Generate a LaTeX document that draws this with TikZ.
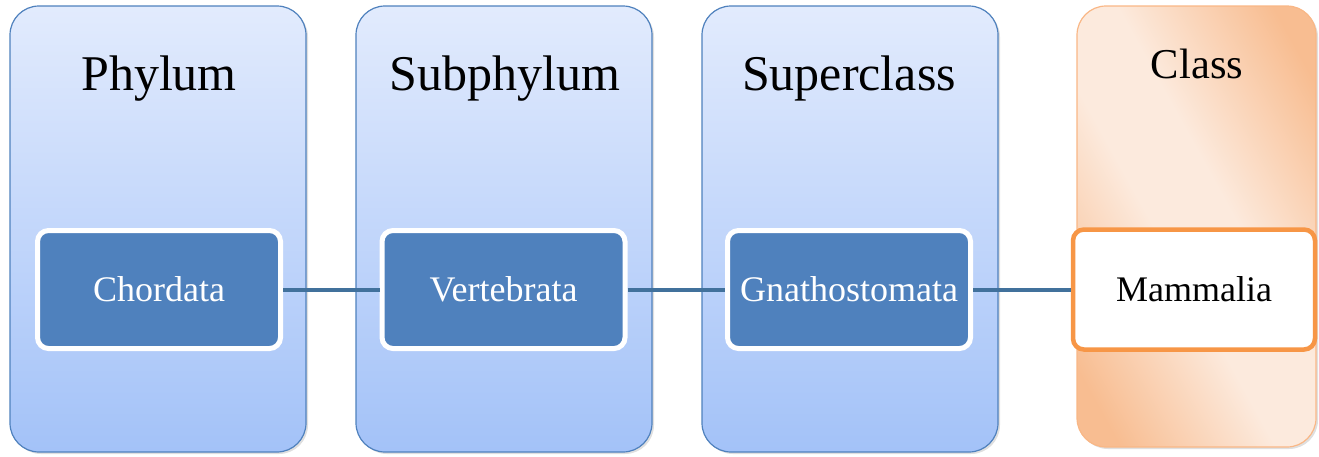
\documentclass[tikz,border=0pt]{standalone}
\usepackage{fontspec}
\setmainfont{Liberation Serif}
\usepackage{tikz}
\usetikzlibrary{shapes}
\usetikzlibrary{shadows}
\definecolor{colTop}{RGB}{226,235,253}
\definecolor{colBot}{RGB}{163,194,248}
\definecolor{colLine}{RGB}{79,129,189}
\definecolor{linkBlue}{RGB}{65,113,156}
\definecolor{orgDark}{RGB}{248,189,145}
\definecolor{orgLight}{RGB}{252,234,221}
\definecolor{orgEdge}{RGB}{249,183,134}
\definecolor{orgBox}{RGB}{247,150,70}
\pgfdeclarehorizontalshading{org_band}{100bp}{color(0bp)=(orgDark); color(22bp)=(orgDark); color(44bp)=(orgLight); color(56bp)=(orgLight); color(78bp)=(orgDark); color(100bp)=(orgDark)}
\tikzset{ rank_col/.style = {rectangle, rounded corners=29pt, draw=colLine, line width=1.2pt, top color=colTop, bottom color=colBot, minimum width=296pt, minimum height=446pt, drop shadow={shadow xshift=2pt, shadow yshift=-2pt, opacity=0.25}} }
\tikzset{ rank_col_hi/.style = {rectangle, rounded corners=29pt, draw=orgEdge, line width=1.2pt, shading=org_band, shading angle=29, minimum width=239pt, minimum height=441pt, drop shadow={shadow xshift=2pt, shadow yshift=-2pt, opacity=0.25}} }
\tikzset{ rank_name/.style = {anchor=base, font=\fontsize{50}{60}\selectfont} }
\tikzset{ taxon/.style = {rectangle, rounded corners=11pt, draw=white, line width=5pt, fill=colLine, text=white, minimum width=243pt, minimum height=118pt, font=\fontsize{36}{43}\selectfont} }
\tikzset{ taxon_hi/.style = {rectangle, rounded corners=11pt, draw=orgBox, line width=4.5pt, fill=white, minimum width=242pt, minimum height=120pt, font=\fontsize{36}{43}\selectfont} }
\tikzset{ link/.style = {draw=linkBlue, line width=4pt} }
\begin{document}
\begin{tikzpicture}[x=1pt,y=-1pt]
            \useasboundingbox (0,0) rectangle (1319,456);
                    \node [style=rank_col] (phylum) at (158, 229) {};
                    \node [style=rank_col] (subphylum) at (504, 229) {};
                    \node [style=rank_col] (superclass) at (850, 229) {};
                    \node [style=rank_col_hi] (class) at (1196.5, 226.5) {};
                    \node [style=rank_name] (phylum_t) at (159, 90) {Phylum};
                    \node [style=rank_name] (subphylum_t) at (505, 90) {Subphylum};
                    \node [style=rank_name] (superclass_t) at (849, 90) {Superclass};
                    \node [style=rank_name, font=\fontsize{42.5}{51}\selectfont] (class_t) at (1197, 78) {Class};
                    \node [style=taxon] (chordata) at (159, 289.5) {Chordata};
                    \node [style=taxon] (vertebrata) at (503.5, 289.5) {Vertebrata};
                    \node [style=taxon] (gnatho) at (849, 289.5) {Gnathostomata};
                    \node [style=taxon_hi] (mammalia) at (1194, 289.5) {Mammalia};
                    \draw[style=link] (chordata) to (vertebrata);
                    \draw[style=link] (vertebrata) to (gnatho);
                    \draw[style=link] (gnatho) to (mammalia);
            \end{tikzpicture}
\end{document}
